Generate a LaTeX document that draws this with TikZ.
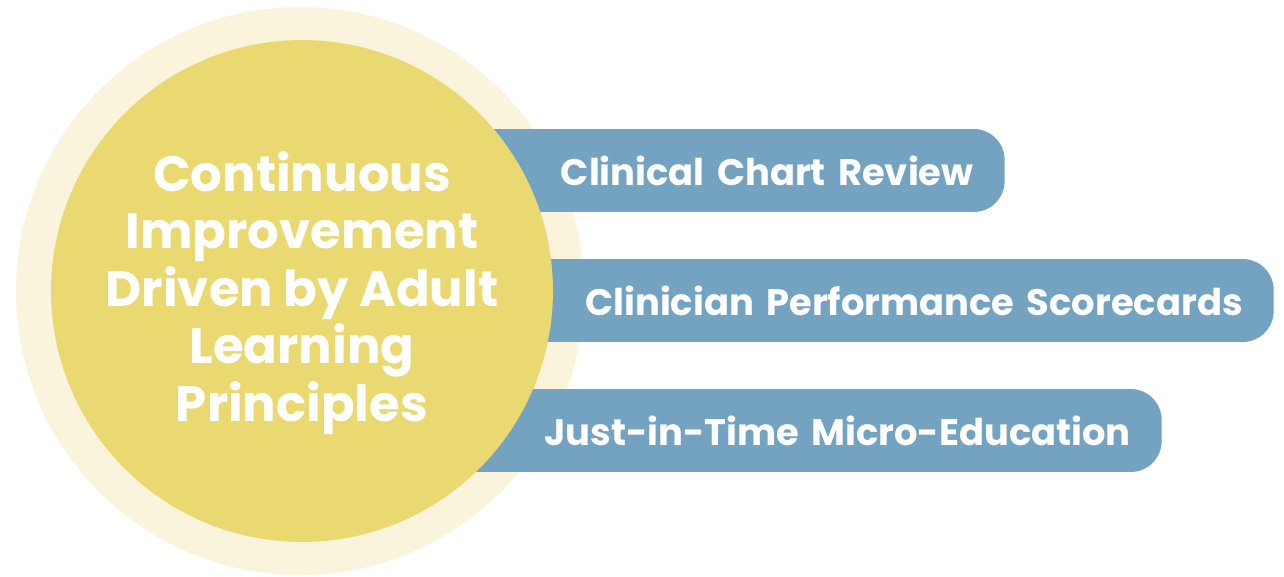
\documentclass[tikz,border=0pt]{standalone}
\usepackage{fontspec}
\setmainfont{Poppins}
\definecolor{palecream}{RGB}{250,244,221}
\definecolor{hubyellow}{RGB}{234,217,112}
\definecolor{barblue}{RGB}{116,163,193}
\begin{document}
\begin{tikzpicture}[x=0.02cm,y=-0.02cm,
    bar/.style={rectangle, fill=barblue, rounded corners=0.62cm, minimum height=1.66cm,
      inner xsep=0.62cm, inner ysep=0pt, align=right, anchor=east, text=white,
      font=\bfseries\fontsize{21}{25}\selectfont}]

    \useasboundingbox (0,0) rectangle (1284,577);

    \fill[palecream] (300,291) circle (284);

    \node[bar, text width=10.86cm] (chart) at (1005,170.5) {Clinical Chart Review};
    \node[bar, text width=16.26cm] (score) at (1274,300.5) {Clinician Performance Scorecards};
    \node[bar, text width=13.00cm] (micro) at (1162,430.5) {Just-in-Time Micro-Education};

    \node[circle, fill=hubyellow, minimum size=10.04cm, inner sep=0pt] (hub) at (302,291) {};
    \node[align=center, text=white, font=\bfseries\fontsize{28.3}{32.7}\selectfont] (hubtext) at (302,293)
        {Continuous\\Improvement\\Driven by Adult\\Learning\\Principles};

\end{tikzpicture}
\end{document}
